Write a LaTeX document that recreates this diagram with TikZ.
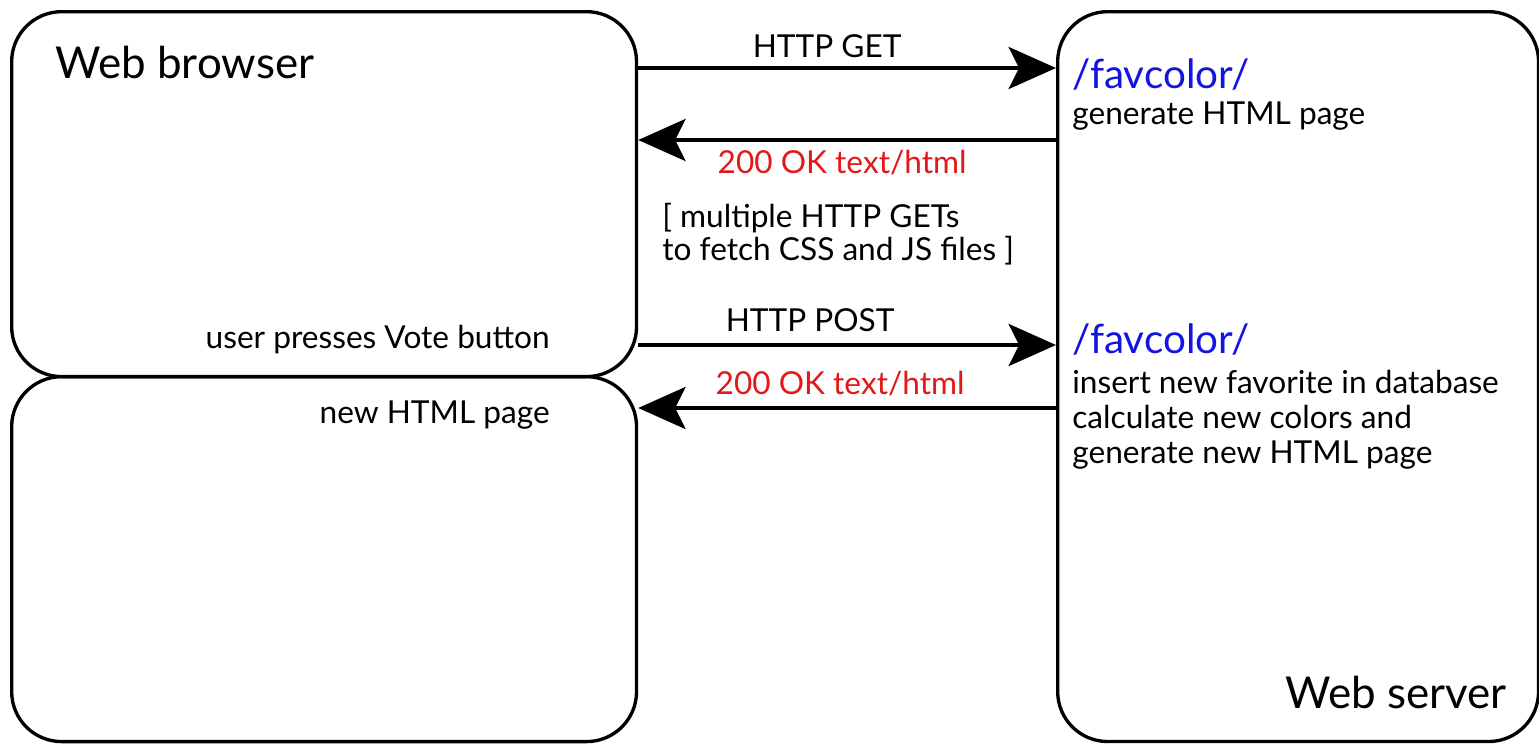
\documentclass[tikz,border=0pt]{standalone}
\usepackage{fontspec}
\setmainfont{Lato}
\usetikzlibrary{arrows.meta}
\definecolor{okred}{RGB}{225,25,25}
\definecolor{urlblue}{RGB}{20,20,225}
\begin{document}
\begin{tikzpicture}[x=0.02cm,y=-0.02cm,
  box/.style={draw,line width=1.9pt,rounded corners=1cm,anchor=north west,inner sep=0pt},
  msg/.style={line width=1.9pt,-{Stealth[length=27pt,width=24pt,inset=6pt]}},
  txt/.style={font=\fontsize{18}{20}\selectfont,inner sep=0pt},
  big/.style={font=\fontsize{25}{28}\selectfont,inner sep=0pt},
  url/.style={font=\fontsize{23}{26}\selectfont,inner sep=0pt,text=urlblue}]
\useasboundingbox(0,0)rectangle(1539,744);
\node[box,minimum width=12.5cm,minimum height=7.3cm](browser)at(10,10){};
\node[box,minimum width=12.5cm,minimum height=7.3cm](page)at(10,375){};
\node[box,minimum width=9.62cm,minimum height=14.6cm](server)at(1056,10){};
\node[big,anchor=west](wb)at(55,62){Web browser};
\node[txt,anchor=east](vote)at(550,340){user presses Vote button};
\node[txt,anchor=east](newpage)at(550,415){new HTML page};
\node[big,anchor=east](ws)at(1507,692){Web server};
\node[url,anchor=west](url1)at(1072,75){/favcolor/};
\node[txt,anchor=west](gen)at(1072,116){generate HTML page};
\node[url,anchor=west](url2)at(1072,340){/favcolor/};
\node[txt,anchor=north west,align=left](ins)at(1072,370){insert new favorite in database\\calculate new colors and\\generate new HTML page};
\draw[msg](browser.east|-0,68)--(server.west|-0,68)node[txt,midway,yshift=0.44cm,xshift=-0.4cm]{HTTP GET};
\draw[msg](server.west|-0,140)--(browser.east|-0,140)node[txt,midway,yshift=-0.46cm,xshift=-0.1cm,text=okred]{200 OK text/html};
\node[txt,anchor=west,align=left,font=\fontsize{18}{18.5}\selectfont](fetch)at(662,234){[ multiple HTTP GETs\\to fetch CSS and JS files ]};
\draw[msg](browser.east|-0,345)--(server.west|-0,345)node[txt,midway,yshift=0.5cm,xshift=-0.74cm]{HTTP POST};
\draw[msg](server.west|-0,408)--(page.east|-0,408)node[txt,midway,yshift=0.48cm,xshift=-0.14cm,text=okred]{200 OK text/html};
\end{tikzpicture}
\end{document}
